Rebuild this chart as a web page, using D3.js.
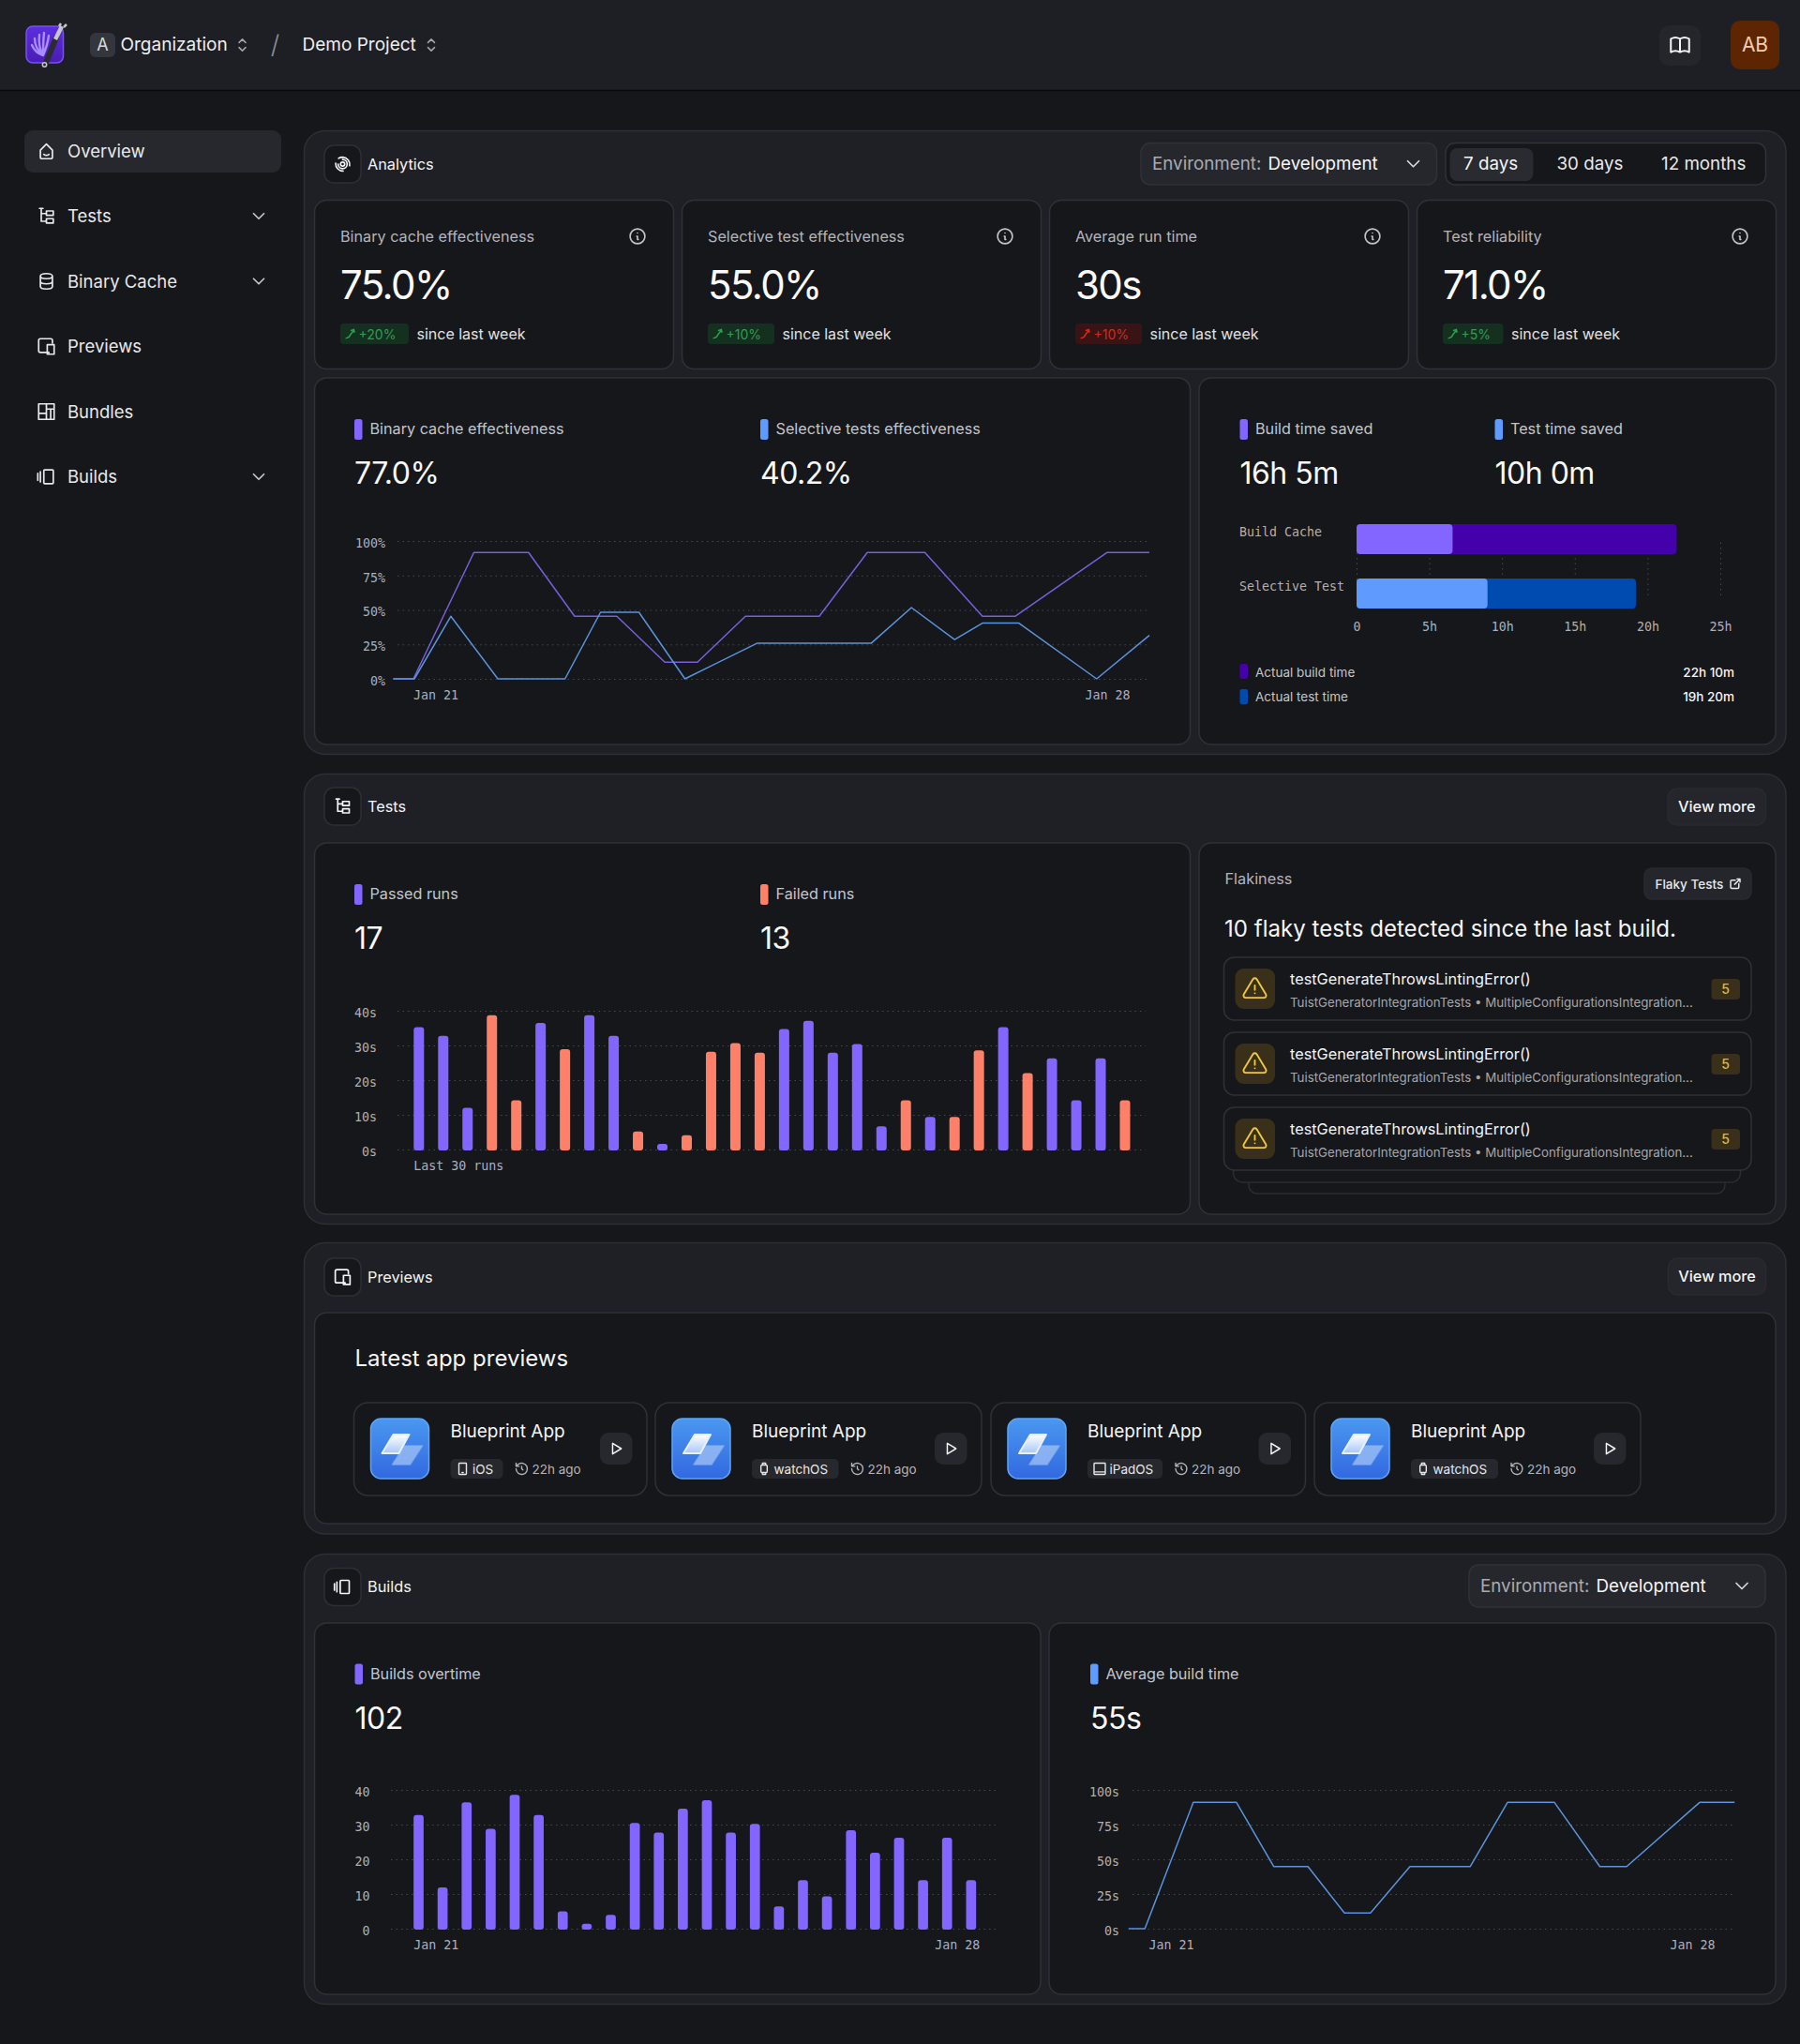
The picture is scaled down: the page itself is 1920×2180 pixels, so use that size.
<!DOCTYPE html>
<html>
<head>
<meta charset="utf-8">
<title>Overview</title>
<script src="https://cdn.jsdelivr.net/npm/d3@7"></script>
<style>
  html, body { margin: 0; padding: 0; background: #15171b; }
  svg { display: block; }
  text { font-family: Inter, "Noto Sans", sans-serif; fill: #f4f4f5; dominant-baseline: central; }
  .tick text, .mono { font-family: "DejaVu Sans Mono", monospace; font-size: 13.3px; fill: #aeb0b5; dominant-baseline: auto; }
  .grid line { stroke: #47494f; stroke-dasharray: 1.5 4; }
</style>
</head>
<body>
<script>
// chart values
const navItems = ['Overview', 'Tests', 'Binary Cache', 'Previews', 'Bundles', 'Builds'];
const navIcons = ['home', 'tests', 'db', 'devices', 'bundles', 'builds'];
const navExpandable = [false, true, true, false, false, true];

const statTitles = ['Binary cache effectiveness', 'Selective test effectiveness', 'Average run time', 'Test reliability'];
const statValues = ['75.0%', '55.0%', '30s', '71.0%'];
const statDeltas = ['+20%', '+10%', '+10%', '+5%'];
const statGood = [true, true, false, true];

const binaryDays = [20.56, 20.77, 21.40, 21.97, 22.45, 22.89, 23.39, 23.73, 24.23, 25.00, 25.50, 26.10, 26.70, 27.04, 28.00, 28.44];
const binaryValues = [0, 0, 91.7, 91.7, 45.4, 45.4, 12.1, 12.1, 45.4, 45.4, 91.7, 91.7, 45.4, 45.4, 91.7, 91.7];
const selectiveDays = [20.56, 20.78, 21.16, 21.65, 22.35, 22.72, 23.12, 23.60, 24.35, 25.54, 25.96, 26.41, 26.70, 27.08, 27.89, 28.44];
const selectiveValues = [0, 0, 45.4, 0, 0, 48.3, 48.3, 0, 25.8, 25.8, 51.7, 28.5, 40.4, 40.4, 0, 31.5];
const percentTicks = [0, 25, 50, 75, 100];

const timeCategories = ['Build Cache', 'Selective Test'];
const savedHours = [6.6, 9.0];
const actualHours = [22.0, 19.2];
const hourTicks = [0, 5, 10, 15, 20, 25];

const runSeconds = [35.3, 32.8, 12, 38.7, 14.2, 36.5, 28.9, 38.7, 32.8, 5.2, 1.6, 4.1, 28.2, 30.7, 27.9, 34.7, 37.1, 27.9, 30.4, 6.7, 14.2, 9.4, 9.4, 28.6, 35.3, 22, 26.3, 14.2, 26.3, 14.2];
const runPassed = [1, 1, 1, 0, 0, 1, 0, 1, 1, 0, 1, 0, 0, 0, 0, 1, 1, 1, 1, 1, 0, 1, 0, 0, 1, 0, 1, 1, 1, 0];
const secondTicks = [0, 10, 20, 30, 40];

const flakyTitles = ['testGenerateThrowsLintingError()', 'testGenerateThrowsLintingError()', 'testGenerateThrowsLintingError()'];
const flakySubtitle = 'TuistGeneratorIntegrationTests • MultipleConfigurationsIntegration...';
const flakyCounts = [5, 5, 5];

const previewPlatforms = ['iOS', 'watchOS', 'iPadOS', 'watchOS'];
const previewIcons = ['phone', 'watch', 'tablet', 'watch'];

const buildCounts = [32.8, 11.9, 36.4, 28.8, 38.6, 32.8, 5.0, 1.4, 4.0, 30.5, 27.7, 34.6, 37.0, 27.7, 30.2, 6.4, 14.0, 9.3, 28.4, 21.9, 26.2, 14.0, 26.2, 14.0];
const avgBuildDays = [20.43, 20.65, 21.30, 21.88, 22.38, 22.84, 23.33, 23.68, 24.21, 25.02, 25.52, 26.15, 26.76, 27.12, 28.10, 28.57];
const avgBuildSeconds = [0, 0, 91, 91, 44.8, 44.8, 11.3, 11.3, 44.8, 44.8, 91, 91, 44.8, 44.8, 91, 91];

const purple = '#8266ff';
const blue = '#5f9bff';
const coral = '#ff8068';

const iconPaths = {
  home: 'M5 11l7-7 7 7v8a2 2 0 0 1-2 2H7a2 2 0 0 1-2-2z M9 16c2 1.5 4 1.5 6 0',
  tests: 'M4 3h4 M6 3v15h5 M6 9h5 M12 6h8v5h-8z M12 15h8v5h-8z',
  db: 'M5 6a7 3 0 1 0 14 0a7 3 0 1 0-14 0 M5 6v12c0 1.7 3 3 7 3s7-1.3 7-3V6 M5 12c0 1.7 3 3 7 3s7-1.3 7-3',
  devices: 'M15 19H5a2 2 0 0 1-2-2V5a2 2 0 0 1 2-2h12a2 2 0 0 1 2 2v3 M13 10h8v11h-8z',
  bundles: 'M3 3h18v18H3z M12 3v18 M3 14h9 M12 9h9 M17 9v12',
  builds: 'M10 4h9a1 1 0 0 1 1 1v14a1 1 0 0 1-1 1h-9a1 1 0 0 1-1-1V5a1 1 0 0 1 1-1z M5 6v12 M2 8v8',
  chevron: 'M6 9l6 6 6-6',
  selector: 'M8 9l4-4 4 4 M16 15l-4 4-4-4',
  info: 'M3 12a9 9 0 1 0 18 0a9 9 0 1 0-18 0 M12 8h.01 M11 12h1v4h1',
  trend: 'M3 20l5-2 4-6 4-5 M12 6l5-2 1 5',
  book: 'M3 19a9 9 0 0 1 9 0a9 9 0 0 1 9 0 M3 6a9 9 0 0 1 9 0a9 9 0 0 1 9 0 M3 6v13 M12 6v13 M21 6v13',
  alert: 'M12 9v4 M10.36 3.6L2.25 17a2 2 0 0 0 1.72 3h16.06a2 2 0 0 0 1.71-3L13.64 3.6a2 2 0 0 0-3.28 0z M12 16h.01',
  external: 'M12 6H6a2 2 0 0 0-2 2v10a2 2 0 0 0 2 2h10a2 2 0 0 0 2-2v-6 M11 13l9-9 M15 4h5v5',
  play: 'M7 4v16l13-8z',
  history: 'M12 8v4l2 2 M3 12a9 9 0 1 0 3-6.7L3 8 M3 3v5h5',
  phone: 'M7 3h10a1 1 0 0 1 1 1v16a1 1 0 0 1-1 1H7a1 1 0 0 1-1-1V4a1 1 0 0 1 1-1z M11 18h2',
  watch: 'M7 8a2 2 0 0 1 2-2h6a2 2 0 0 1 2 2v8a2 2 0 0 1-2 2H9a2 2 0 0 1-2-2z M9 6l.5-3h5l.5 3 M9 18l.5 3h5l.5-3',
  tablet: 'M4 3h16a1 1 0 0 1 1 1v16a1 1 0 0 1-1 1H4a1 1 0 0 1-1-1V4a1 1 0 0 1 1-1z M3 17h18',
  swirl: 'M9.5 12a2.5 2.5 0 1 0 5 0a2.5 2.5 0 1 0-5 0 M12 6.5a5.5 5.5 0 1 1-5.5 5.5 M3.5 11a9 9 0 0 0 9 9.5 M20.5 14A9 9 0 0 0 12 3.5a9 9 0 0 0-5 1.5'
};

const svg = d3.select('body').append('svg').attr('width', 1920).attr('height', 2180);
const defs = svg.append('defs');

const logoGrad = defs.append('linearGradient').attr('id', 'logoGrad').attr('x1', 0).attr('y1', 0).attr('x2', 0).attr('y2', 1);
logoGrad.append('stop').attr('offset', 0).attr('stop-color', '#5b2fe0');
logoGrad.append('stop').attr('offset', 1).attr('stop-color', '#4a1cb4');
const appGrad = defs.append('linearGradient').attr('id', 'appGrad').attr('x1', 0).attr('y1', 0).attr('x2', 0).attr('y2', 1);
appGrad.append('stop').attr('offset', 0).attr('stop-color', '#4a97f0');
appGrad.append('stop').attr('offset', 1).attr('stop-color', '#3269e0');
const sheetGrad = defs.append('linearGradient').attr('id', 'sheetGrad').attr('x1', 0).attr('y1', 0).attr('x2', 0).attr('y2', 1);
sheetGrad.append('stop').attr('offset', 0).attr('stop-color', '#ffffff');
sheetGrad.append('stop').attr('offset', 1).attr('stop-color', '#a9c8f8');

function box(x, y, w, h, r, fill, stroke) {
  return svg.append('rect').attr('x', x).attr('y', y).attr('width', w).attr('height', h).attr('rx', r)
    .attr('fill', fill).attr('stroke', stroke || 'none').attr('stroke-width', stroke ? 1.5 : 0);
}

function label(x, y, text, size, color, opts) {
  const o = opts || {};
  return svg.append('text').attr('x', x).attr('y', y - 0.3).text(text)
    .attr('font-size', size).attr('font-weight', o.weight || 400)
    .attr('text-anchor', o.anchor || 'start')
    .attr('letter-spacing', o.spacing || 0)
    .style('fill', color);
}

function icon(name, cx, cy, size, color, width) {
  const k = size / 24;
  return svg.append('path').attr('d', iconPaths[name])
    .attr('transform', `translate(${cx - size / 2},${cy - size / 2}) scale(${k})`)
    .attr('fill', 'none').attr('stroke', color)
    .attr('stroke-width', (width || 1.7) / k)
    .attr('stroke-linecap', 'round').attr('stroke-linejoin', 'round');
}

function panel(y, h) {
  box(324.5, y, 1580.5, h, 22, '#1e2025', '#2d2f35');
}

function card(x, y, w, h) {
  box(x, y, w, h, 13, '#15171b', '#2f3137');
}

function button(x, y, w, h, text) {
  box(x, y, w, h, 10, '#24262b', '#282a30');
  label(x + w / 2, y + h / 2, text, 16.3, '#f4f4f5', { anchor: 'middle', weight: 500 });
}

function sectionHeader(y, iconName, title) {
  box(346, y, 39, 40, 10, '#15171b', '#2d2f35');
  icon(iconName, 365.5, y + 20, 21, '#f4f4f5');
  label(392, y + 20, title, 16.3, '#f4f4f5');
}

function legend(x, y, color, title, value) {
  box(x, y, 8.5, 22, 2.5, color);
  label(x + 16.5, y + 10.5, title, 16.2, '#c4c5c9');
  label(x, y + 58, value, 32, '#f8f8f8', { spacing: -0.5 });
}

function dropdown(x, y, w, h) {
  box(x, y, w, h, 10, '#25272c', '#303238');
  label(x + 12, y + h / 2, 'Environment:', 18.8, '#a9abb0');
  label(x + 135.5, y + h / 2, 'Development', 18.8, '#f4f4f5');
  icon('chevron', x + w - 25, y + h / 2, 24, '#d8d9dc');
}

// y axis with the dotted grid lines running across the plot
function gridAxis(y, xStart, xEnd, labelRight, ticks, format) {
  const g = svg.append('g').attr('class', 'grid').attr('transform', `translate(${xStart},0)`)
    .call(d3.axisLeft(y).tickValues(ticks).tickFormat(format)
      .tickSize(-(xEnd - xStart)).tickPadding(xStart - labelRight));
  g.select('.domain').remove();
  g.selectAll('text').attr('dy', '0.47em');
  return g;
}

function dayAxis(x, yBase) {
  const g = svg.append('g').attr('transform', `translate(0,${yBase})`)
    .call(d3.axisBottom(x).tickValues([21, 28]).tickFormat(d => 'Jan ' + d).tickSize(0).tickPadding(13));
  g.select('.domain').remove();
}

function lineChart(x, y, days, values, color) {
  const line = d3.line().x((d, i) => x(days[i])).y(d => y(d));
  svg.append('path').datum(values).attr('d', line).attr('fill', 'none')
    .attr('stroke', color).attr('stroke-width', 1.5).attr('stroke-linejoin', 'round');
}

function barChart(x, y, values, colorOf) {
  svg.append('g').selectAll('rect').data(values).join('rect')
    .attr('x', (d, i) => x(i)).attr('y', d => y(d))
    .attr('width', x.bandwidth()).attr('height', d => y(0) - y(d) + 1)
    .attr('rx', 3).attr('fill', colorOf);
}

// ---- page chrome ----
box(0, 0, 1920, 96, 0, '#1d1f24');
svg.append('line').attr('x1', 0).attr('x2', 1920).attr('y1', 96.5).attr('y2', 96.5).attr('stroke', '#08090b').attr('stroke-width', 1.5);

// logo
box(28, 28, 39.5, 39, 7, 'url(#logoGrad)', '#7a4dff');
svg.append('path').attr('d', 'M46 59 C40 57 36 53 34 48 M46 59 C40 54 37 48 37 41 M46 59 C42 52 41 45 42 37 M46 59 C46 51 46 44 47 35 M46 59 C49 52 51 46 52 38')
  .attr('fill', 'none').attr('stroke', '#a98cff').attr('stroke-width', 2.4).attr('stroke-linecap', 'round');
svg.append('line').attr('x1', 49).attr('y1', 67).attr('x2', 60).attr('y2', 40).attr('stroke', '#2a2c31').attr('stroke-width', 6).attr('stroke-linecap', 'round');
svg.append('line').attr('x1', 59).attr('y1', 42).attr('x2', 66).attr('y2', 28).attr('stroke', '#c4c6cb').attr('stroke-width', 4.5);
svg.append('path').attr('d', 'M63 28 l2-3 M68 29 l3-3').attr('stroke', '#c4c6cb').attr('stroke-width', 2.5);
svg.append('circle').attr('cx', 47.5).attr('cy', 69).attr('r', 2.2).attr('fill', 'none').attr('stroke', '#c4c6cb').attr('stroke-width', 1.5);

box(96, 35, 27, 26, 6, '#33363c');
label(109.5, 48, 'A', 18, '#d8d9dc', { anchor: 'middle' });
label(128.5, 48, 'Organization', 19, '#eeeeef');
icon('selector', 258.5, 48, 21, '#a4a6ac', 1.5);
label(293.5, 48, '/', 27, '#8d8f95', { anchor: 'middle', weight: 300 });
label(322.5, 48, 'Demo Project', 19, '#eeeeef');
icon('selector', 460, 48, 21, '#a4a6ac', 1.5);

box(1770, 27, 44, 43, 10, '#24262b');
icon('book', 1792, 48, 26, '#f4f4f5', 2);
box(1846, 22, 52, 52, 10, '#5e2600');
label(1872, 48, 'AB', 21, '#f0cdb2', { anchor: 'middle' });

// ---- sidebar ----
box(26, 139, 274, 45, 9, '#26282d');
navItems.forEach((name, i) => {
  const y = 161 + i * 69.5;
  icon(navIcons[i], 49.5, y, 22, '#e8e8ea');
  label(72, y, name, 18.5, '#e8e8ea');
  if (navExpandable[i]) icon('chevron', 276, y, 22, '#c4c5c9');
});

// ---- analytics ----
panel(139.5, 665);
sectionHeader(155, 'swirl', 'Analytics');
dropdown(1217, 152.5, 315.5, 44.5);
box(1542, 152.5, 341.5, 44.5, 10, '#15171b', '#303238');
box(1546.5, 158, 89, 35, 8, '#292b30');
label(1561, 175, '7 days', 18.8, '#f4f4f5');
label(1660.5, 175, '30 days', 18.8, '#e8e8ea');
label(1772, 175, '12 months', 18.8, '#e8e8ea');

const statX = [335.5, 727.5, 1119.5, 1511.5];
const deltaWidth = [73, 71, 71, 64.5];
statTitles.forEach((title, i) => {
  const x = statX[i];
  card(x, 213.5, 383, 180);
  label(x + 27.5, 252, title, 16.2, '#b4b5ba');
  icon('info', x + 344.5, 252, 21, '#c4c5c9', 1.6);
  label(x + 27.5, 304, statValues[i], 42, '#fafafa', { spacing: -1.6 });
  const good = statGood[i];
  box(x + 27.5, 345, deltaWidth[i], 22, 4, good ? '#14301f' : '#3a1414');
  icon('trend', x + 39, 356, 14, good ? '#2f9e50' : '#d42a1c', 1.5);
  label(x + 47, 356.5, statDeltas[i], 14, good ? '#2f9e50' : '#d42a1c');
  label(x + 27.5 + deltaWidth[i] + 8.5, 356, 'since last week', 16, '#e0e1e3');
});

// effectiveness lines
card(335.5, 403, 934, 391);
legend(378, 447, purple, 'Binary cache effectiveness', '77.0%');
legend(811, 447, blue, 'Selective tests effectiveness', '40.2%');

const effectY = d3.scaleLinear().domain([0, 100]).range([724, 577]);
const effectX = d3.scaleLinear().domain([21, 28]).range([464.5, 1181]);
gridAxis(effectY, 424, 1226, 411, percentTicks, d => d + '%');
dayAxis(effectX, 724);
lineChart(effectX, effectY, binaryDays, binaryValues, '#7a5fdc');
lineChart(effectX, effectY, selectiveDays, selectiveValues, '#5b94dc');

// time saved bars
card(1279, 403, 615, 391);
legend(1322.5, 447, purple, 'Build time saved', '16h 5m');
legend(1594.5, 447, blue, 'Test time saved', '10h 0m');

const hoursX = d3.scaleLinear().domain([0, 25]).range([1447, 1835]);
const timeY = d3.scaleBand().domain(timeCategories).range([559, 649]).paddingInner(0.448);
const hourAxis = svg.append('g').attr('class', 'grid').attr('transform', 'translate(0,635)')
  .call(d3.axisBottom(hoursX).tickValues(hourTicks).tickFormat(d => d === 0 ? '0' : d + 'h').tickSize(-59).tickPadding(29));
hourAxis.select('.domain').remove();
const categoryAxis = svg.append('g').attr('transform', 'translate(1322,0)')
  .call(d3.axisRight(timeY).tickSize(0).tickPadding(0));
categoryAxis.select('.domain').remove();
categoryAxis.selectAll('text').attr('dy', '-0.2em');
const barColors = [['#4300ab', '#8266ff'], ['#004bb0', '#5f9bff']];
timeCategories.forEach((name, i) => {
  box(hoursX(0), timeY(name), hoursX(actualHours[i]) - hoursX(0), timeY.bandwidth(), 4, barColors[i][0]);
  box(hoursX(0), timeY(name), hoursX(savedHours[i]) - hoursX(0), timeY.bandwidth(), 4, barColors[i][1]);
});

box(1322.5, 708, 8.5, 16, 2, '#4300ab');
label(1339, 717, 'Actual build time', 13.5, '#c4c5c9');
label(1850, 717, '22h 10m', 13.5, '#f4f4f5', { anchor: 'end', weight: 500 });
box(1322.5, 735, 8.5, 16, 2, '#004bb0');
label(1339, 743, 'Actual test time', 13.5, '#c4c5c9');
label(1850, 743, '19h 20m', 13.5, '#f4f4f5', { anchor: 'end', weight: 500 });

// ---- tests ----
panel(825.5, 480);
sectionHeader(840, 'tests', 'Tests');
button(1779, 841, 104.5, 39, 'View more');

card(335.5, 899, 934, 396);
legend(378, 943, purple, 'Passed runs', '17');
legend(811, 943, coral, 'Failed runs', '13');

const runY = d3.scaleLinear().domain([0, 40]).range([1226, 1078]);
const runX = d3.scaleBand().domain(d3.range(runSeconds.length)).range([441.3, 1205.5]).paddingInner(0.576);
gridAxis(runY, 424, 1222, 402, secondTicks, d => d + 's');
barChart(runX, runY, runSeconds, (d, i) => runPassed[i] ? purple : coral);
const runAxis = svg.append('g').attr('transform', 'translate(0,1226)')
  .call(d3.axisBottom(runX).tickValues([0]).tickFormat(() => 'Last 30 runs').tickSize(0).tickPadding(13));
runAxis.select('.domain').remove();
runAxis.selectAll('text').attr('text-anchor', 'start').attr('x', -runX.bandwidth() / 2);

card(1279, 899, 615, 396);
label(1306.5, 937, 'Flakiness', 16.3, '#b4b5ba');
box(1754, 926, 114, 33, 8, '#24262b', '#282a30');
label(1765.5, 943, 'Flaky Tests', 13.5, '#e8e8ea', { weight: 500 });
icon('external', 1851, 942.5, 15, '#e8e8ea', 1.5);
label(1306, 991, '10 flaky tests detected since the last build.', 24.1, '#f4f4f5');

// the two sheets peeking out under the list
box(1332, 1250, 508, 23, 9, 'none', '#2b2d33');
box(1315.5, 1240, 541, 21, 10, '#15171b', '#2b2d33');
flakyTitles.forEach((title, i) => {
  const y = 1021 + i * 80;
  box(1305.5, y, 562.5, 67, 11, '#15171b', '#2f3137');
  box(1317.5, y + 12, 42.5, 43, 9, '#3a2f18');
  icon('alert', 1338.5, y + 33.5, 29, '#eec643', 1.9);
  label(1376, y + 23, title, 16.3, '#f4f4f5');
  label(1376, y + 48, flakySubtitle, 13.3, '#a4a6ac');
  box(1825.5, y + 23, 30.5, 22, 4, '#3a2f18');
  label(1840.7, y + 34, flakyCounts[i], 14, '#e0b93f', { anchor: 'middle', weight: 500 });
});

// ---- previews ----
panel(1325.5, 310.5);
sectionHeader(1342, 'devices', 'Previews');
button(1779.5, 1342, 104, 39, 'View more');
card(335.5, 1400, 1558.5, 225);
label(378.5, 1449, 'Latest app previews', 24, '#f4f4f5');

const previewX = [377.5, 699, 1057, 1402];
const previewW = [312.5, 348, 335.5, 348];
const tagW = [56, 92.5, 80, 93];
previewPlatforms.forEach((platform, i) => {
  const x = previewX[i];
  box(x, 1496, previewW[i], 99, 15, '#15171b', '#2f3137');
  box(x + 18, 1513, 62, 64, 11, 'url(#appGrad)', '#5da5f5');
  svg.append('path').attr('d', `M${x + 54} 1542l-13 20h19l13-20z`).attr('fill', '#a9c8f8').attr('opacity', 0.7)
    .attr('stroke', '#a9c8f8').attr('stroke-width', 1.5).attr('stroke-linejoin', 'round').attr('stroke-opacity', 0.7);
  svg.append('path').attr('d', `M${x + 42} 1530h17l-11 20h-18z`).attr('fill', 'url(#sheetGrad)')
    .attr('stroke', '#e8f0fd').attr('stroke-width', 2).attr('stroke-linejoin', 'round');
  label(x + 103, 1527, 'Blueprint App', 19, '#f4f4f5');
  box(x + 103, 1556, tagW[i], 21, 5, '#26282d');
  icon(previewIcons[i], x + 116, 1566.5, 16, '#e8e8ea', 1.4);
  label(x + 103 + 23.5, 1567, platform, 13.5, '#e8e8ea');
  icon('history', x + 103 + tagW[i] + 20, 1566.5, 16, '#b4b5ba', 1.4);
  label(x + 103 + tagW[i] + 31, 1567, '22h ago', 13.5, '#b4b5ba');
  box(x + previewW[i] - 50, 1528, 34.5, 34, 9, '#26282d');
  icon('play', x + previewW[i] - 33, 1545, 17, '#f4f4f5', 1.5);
});

// ---- builds ----
panel(1657.5, 480);
sectionHeader(1672.5, 'builds', 'Builds');
dropdown(1567, 1669, 316, 45);

card(335.5, 1731, 774.5, 396);
legend(378.5, 1774.5, purple, 'Builds overtime', '102');
const buildY = d3.scaleLinear().domain([0, 40]).range([2057, 1909]);
const buildX = d3.scaleBand().domain(d3.range(buildCounts.length)).range([441.15, 1041.2]).paddingInner(0.582);
gridAxis(buildY, 417, 1062, 394.5, secondTicks, d => d);
barChart(buildX, buildY, buildCounts, () => purple);
const buildAxis = svg.append('g').attr('transform', 'translate(0,2057)')
  .call(d3.axisBottom(buildX).tickValues([0, buildCounts.length - 1]).tickFormat(d => d === 0 ? 'Jan 21' : 'Jan 28').tickSize(0).tickPadding(13));
buildAxis.select('.domain').remove();
buildAxis.selectAll('text')
  .attr('text-anchor', d => d === 0 ? 'start' : 'end')
  .attr('x', d => d === 0 ? -buildX.bandwidth() / 2 : buildX.bandwidth() / 2 + 4);

card(1119, 1731, 775, 396);
legend(1163, 1774.5, blue, 'Average build time', '55s');
const avgY = d3.scaleLinear().domain([0, 100]).range([2057, 1909]);
const avgX = d3.scaleLinear().domain([21, 28]).range([1249, 1805]);
gridAxis(avgY, 1208, 1851, 1194, percentTicks, d => d + 's');
dayAxis(avgX, 2057);
lineChart(avgX, avgY, avgBuildDays, avgBuildSeconds, '#5b94dc');
</script>
</body>
</html>
